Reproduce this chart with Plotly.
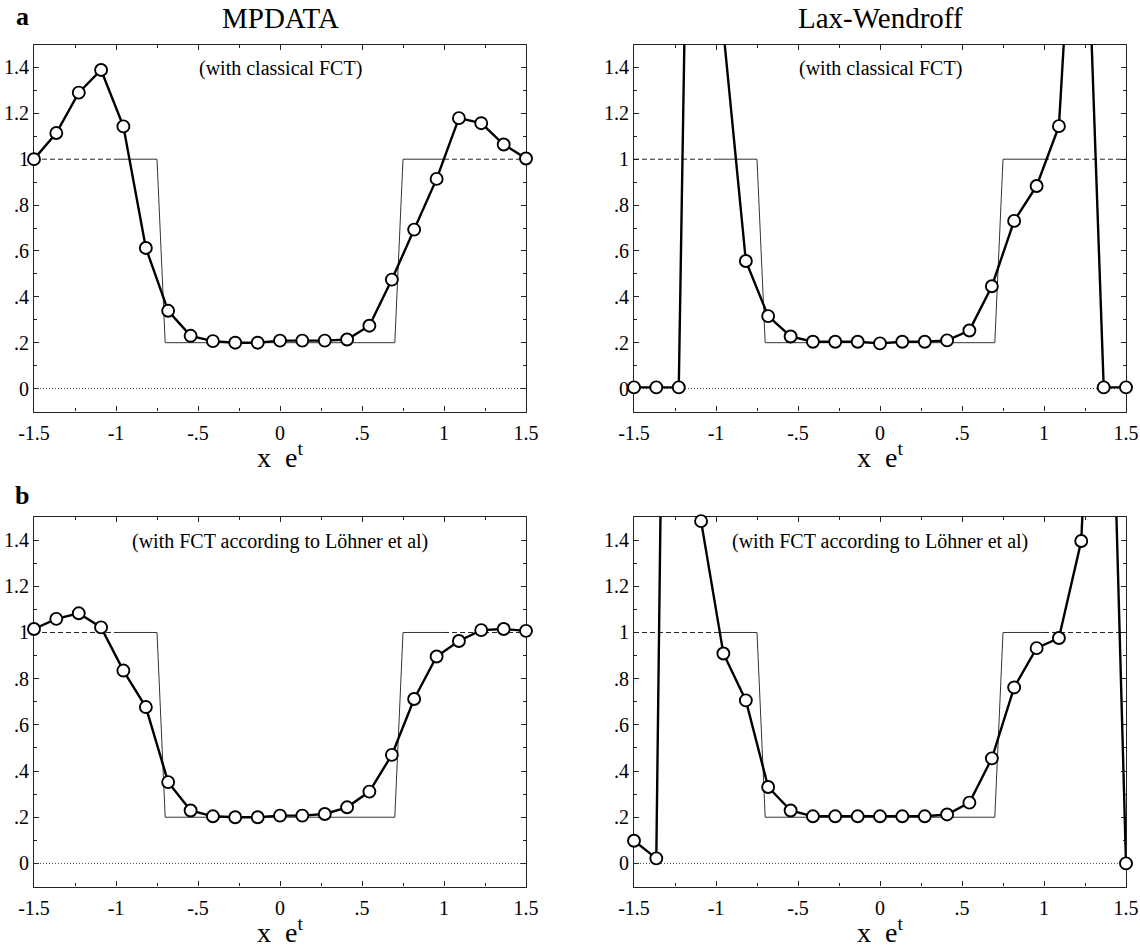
import plotly.graph_objects as go

# ---------------- data ----------------
x_grid = [-1.5, -1.364, -1.227, -1.091, -0.955, -0.818, -0.682, -0.545, -0.409, -0.273, -0.136, 0.0,
          0.136, 0.273, 0.409, 0.545, 0.682, 0.818, 0.955, 1.091, 1.227, 1.364, 1.5]

mpdata_classical = [1.0, 1.114, 1.29, 1.389, 1.143, 0.613, 0.339, 0.230, 0.207, 0.200, 0.200, 0.209,
                    0.209, 0.209, 0.214, 0.274, 0.475, 0.693, 0.914, 1.179, 1.157, 1.064, 1.003]
laxw_classical = [0.005, 0.005, 0.005, 6.0, 1.56, 0.556, 0.316, 0.227, 0.204, 0.204, 0.204, 0.197,
                  0.204, 0.204, 0.210, 0.253, 0.446, 0.731, 0.883, 1.144, 2.8, 0.005, 0.005]
mpdata_lohner = [1.015, 1.059, 1.083, 1.022, 0.835, 0.677, 0.352, 0.229, 0.204, 0.200, 0.200, 0.207,
                 0.207, 0.214, 0.243, 0.311, 0.470, 0.712, 0.896, 0.963, 1.010, 1.015, 1.007]
laxw_lohner = [0.098, 0.022, 8.0, 1.482, 0.909, 0.706, 0.331, 0.229, 0.204, 0.204, 0.204, 0.204,
               0.204, 0.204, 0.212, 0.263, 0.455, 0.762, 0.932, 0.976, 1.396, 3.5, 0.0]

# initial / exact profile
step_x = [-1.0, -0.75, -0.70, 0.70, 0.75, 1.0]
step_y = [1.0, 1.0, 0.2, 0.2, 1.0, 1.0]
dash_left_x = [-1.5, -1.0]
dash_right_x = [1.0, 1.5]
dash_y = [1.0, 1.0]
zero_x = [-1.5, 1.5]
zero_y = [0.0, 0.0]

x_tickvals = [-1.5, -1, -0.5, 0, 0.5, 1, 1.5]
x_ticktext = ["-1.5", "-1", "-.5", "0", ".5", "1", "1.5"]
y_tickvals = [0, 0.2, 0.4, 0.6, 0.8, 1.0, 1.2, 1.4]
y_ticktext = ["0", ".2", ".4", ".6", ".8", "1", "1.2", "1.4"]

col_titles = ["MPDATA", "Lax-Wendroff"]
row_labels = ["a", "b"]
subtitles = ["(with classical FCT)", "(with FCT according to Löhner et al)"]
x_title = "x  e<sup>t</sup>"

panels = [  # (row, col, series)
    (0, 0, mpdata_classical),
    (0, 1, laxw_classical),
    (1, 0, mpdata_lohner),
    (1, 1, laxw_lohner),
]

# ---------------- layout geometry (page pixels) ----------------
W, H = 1140, 948
col_px = [(34, 526), (634, 1126)]
row_px = [(44.5, 411.5), (517, 886.5)]
YMIN, YMAX = -0.1, 1.5

FONT = "Liberation Serif"

def px_x(p):
    return p / W

def px_y(p):
    return 1 - p / H

fig = go.Figure()

axis_common = dict(
    showline=True, linecolor="#222", linewidth=1.2, mirror="ticks",
    ticks="inside", ticklen=5, tickwidth=1, tickcolor="#222",
    showgrid=False, zeroline=False, layer="below traces", automargin=False,
    tickfont=dict(family=FONT, size=20, color="black"),
)

for i, (r, c, ys) in enumerate(panels):
    n = i + 1
    xa = "x" if n == 1 else f"x{n}"
    ya = "y" if n == 1 else f"y{n}"
    xk = "xaxis" if n == 1 else f"xaxis{n}"
    yk = "yaxis" if n == 1 else f"yaxis{n}"

    fig.update_layout(**{
        xk: dict(axis_common, domain=[px_x(col_px[c][0]), px_x(col_px[c][1])], anchor=ya,
                 range=[-1.5, 1.5], tickvals=x_tickvals, ticktext=x_ticktext,
                 minor=dict(dtick=0.25, tick0=0, ticks="inside", ticklen=3, tickcolor="#222"),
                 ticklabelstandoff=3),
        yk: dict(axis_common, domain=[px_y(row_px[r][1]), px_y(row_px[r][0])], anchor=xa,
                 range=[YMIN, YMAX], tickvals=y_tickvals, ticktext=y_ticktext,
                 minor=dict(dtick=0.1, tick0=0, ticks="inside", ticklen=3, tickcolor="#222"),
                 ticklabelstandoff=0),
    })

    # reference lines
    fig.add_trace(go.Scatter(x=zero_x, y=zero_y, mode="lines", xaxis=xa, yaxis=ya,
                             line=dict(color="#444", width=1, dash="1px,2px"), showlegend=False))
    for dx in (dash_left_x, dash_right_x):
        fig.add_trace(go.Scatter(x=dx, y=dash_y, mode="lines", xaxis=xa, yaxis=ya,
                                 line=dict(color="#222", width=1, dash="5px,3px"), showlegend=False))
    fig.add_trace(go.Scatter(x=step_x, y=step_y, mode="lines", xaxis=xa, yaxis=ya,
                             line=dict(color="#333", width=1), showlegend=False))
    # solution line (clipped to plot area)
    fig.add_trace(go.Scatter(x=x_grid, y=ys, mode="lines", xaxis=xa, yaxis=ya,
                             line=dict(color="black", width=2.4), showlegend=False))
    # visible markers only
    mx = [xv for xv, yv in zip(x_grid, ys) if YMIN <= yv <= YMAX]
    my = [yv for yv in ys if YMIN <= yv <= YMAX]
    fig.add_trace(go.Scatter(x=mx, y=my, mode="markers", xaxis=xa, yaxis=ya, cliponaxis=False,
                             marker=dict(symbol="circle", size=12, color="white",
                                         line=dict(color="black", width=1.9)),
                             showlegend=False))

annotations = []
for c, t in enumerate(col_titles):
    annotations.append(dict(text=t, x=px_x((col_px[c][0] + col_px[c][1]) / 2), y=px_y(18),
                            xref="paper", yref="paper", showarrow=False,
                            font=dict(family=FONT, size=29, color="black"),
                            xanchor="center", yanchor="middle"))
for r, lab in enumerate(row_labels):
    annotations.append(dict(text=f"<b>{lab}</b>", x=px_x(22), y=px_y([17, 495][r]),
                            xref="paper", yref="paper", showarrow=False,
                            font=dict(family=FONT, size=26, color="black"),
                            xanchor="center", yanchor="middle"))
    for c in range(2):
        annotations.append(dict(text=subtitles[r], x=px_x((col_px[c][0] + col_px[c][1]) / 2),
                                y=px_y(row_px[r][0] + 24), xref="paper", yref="paper",
                                showarrow=False, font=dict(family=FONT, size=20, color="black"),
                                xanchor="center", yanchor="middle"))
        annotations.append(dict(text=x_title, x=px_x((col_px[c][0] + col_px[c][1]) / 2),
                                y=px_y(row_px[r][1] + 44), xref="paper", yref="paper",
                                showarrow=False, font=dict(family=FONT, size=28, color="black"),
                                xanchor="center", yanchor="middle"))

fig.update_layout(width=W, height=H, margin=dict(l=0, r=0, t=0, b=0),
                  template="none", font=dict(family=FONT, color="black"),
                  paper_bgcolor="white", plot_bgcolor="white",
                  annotations=annotations, showlegend=False)

# remove the default 8px page margin so the figure fills the window exactly
fig.write_html("out.html", config={"displayModeBar": False},
               post_script="document.body.style.margin='0';document.body.style.overflow='hidden';")
